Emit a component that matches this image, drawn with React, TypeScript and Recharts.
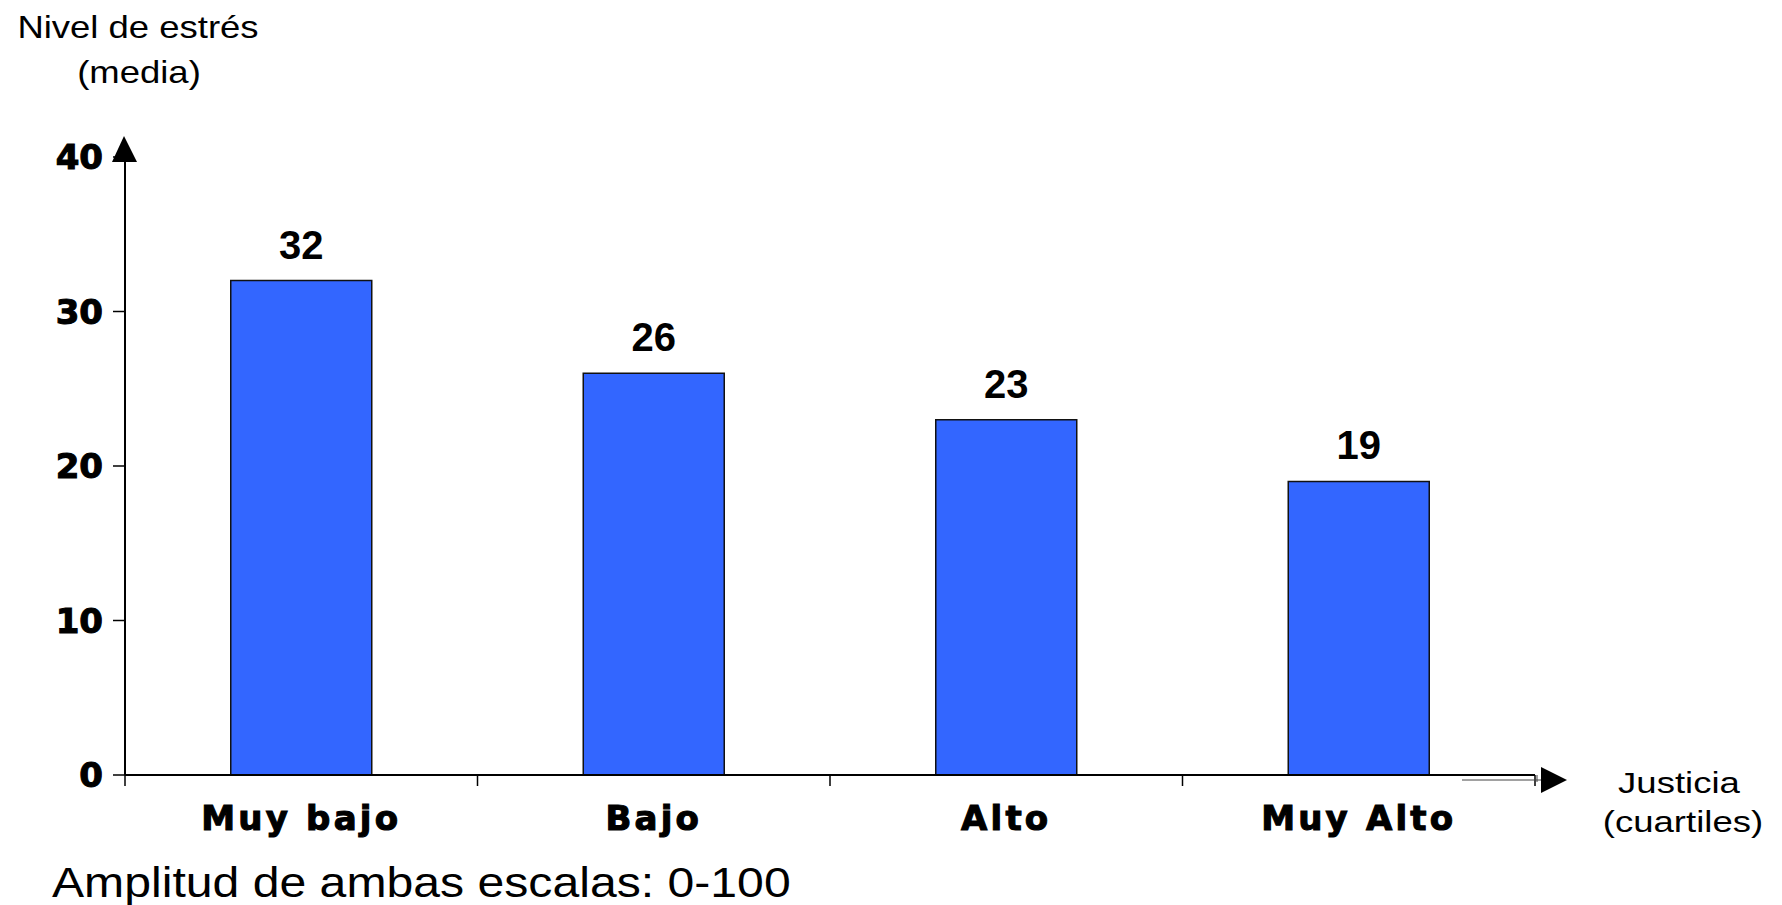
import React from 'react';
import { BarChart, Bar, XAxis, YAxis, LabelList } from 'recharts';

// Estrés medio por cuartil de justicia
const categories = ['Muy bajo', 'Bajo', 'Alto', 'Muy Alto'];
const stressMeans = [32, 26, 23, 19];
const yTicks = [0, 10, 20, 30, 40];

const W = 1782;
const H = 905;
const PLOT_LEFT = 125;
const PLOT_TOP = 157;
const PLOT_RIGHT = 1535;
const PLOT_BOTTOM = 775;
const Y_AXIS_WIDTH = 110;
const X_LABEL_GAP = 31;
const EDGE_TICK = 11;

const data = categories.map((name, i) => ({ name, value: stressMeans[i] }));

const sans = '"Liberation Sans", Arial, sans-serif';
// heavy tick text: DejaVu bold thickened with a thin outline
const boldTick = {
    fontFamily: '"DejaVu Sans", Verdana, sans-serif',
    fontWeight: 'bold',
    fontSize: 34,
    fill: '#000',
    stroke: '#000',
    strokeWidth: 1.1,
};

// category label plus tick marks on the band edges (not the band centre)
function CategoryTick({ x, y, payload, index }: any) {
    const half = payload?.offset || (PLOT_RIGHT - PLOT_LEFT) / categories.length / 2;
    const axisY = y - X_LABEL_GAP;
    const last = index === categories.length - 1;
    return (
        <g>
            <line x1={x - half} y1={axisY} x2={x - half} y2={axisY + EDGE_TICK} stroke="#000" strokeWidth={1.5} />
            {last && (
                <line x1={x + half} y1={axisY} x2={x + half} y2={axisY + EDGE_TICK} stroke="#000" strokeWidth={1.5} />
            )}
            <text x={x} y={y} dy="0.71em" textAnchor="middle" letterSpacing={3.2} {...boldTick}>
                {payload.value}
            </text>
        </g>
    );
}

// horizontally widened text, scaled around its anchor
function WideText({ x, y, sx, size, anchor = 'start', children }: any) {
    return (
        <text
            x={x}
            y={y}
            fontFamily={sans}
            fontSize={size}
            fill="#000"
            textAnchor={anchor}
            transform={`translate(${x},0) scale(${sx},1) translate(${-x},0)`}
        >
            {children}
        </text>
    );
}

function Decorations() {
    return (
        <svg
            width={W}
            height={H}
            style={{ position: 'absolute', left: 0, top: 0, pointerEvents: 'none' }}
        >
            {/* axis titles */}
            <WideText x={138} y={38} sx={1.14} size={32} anchor="middle">Nivel de estrés</WideText>
            <WideText x={139} y={83} sx={1.14} size={32} anchor="middle">(media)</WideText>
            <WideText x={1679} y={793} sx={1.26} size={29} anchor="middle">Justicia</WideText>
            <WideText x={1683} y={832} sx={1.26} size={29} anchor="middle">(cuartiles)</WideText>
            <WideText x={52} y={897} sx={1.12} size={43}>Amplitud de ambas escalas: 0-100</WideText>

            {/* arrow heads */}
            <polygon
                points={`${PLOT_LEFT - 13},${PLOT_TOP + 5} ${PLOT_LEFT + 12},${PLOT_TOP + 5} ${PLOT_LEFT - 1},${PLOT_TOP - 21}`}
                fill="#000"
            />
            <line x1={PLOT_RIGHT - 73} y1={PLOT_BOTTOM + 5} x2={PLOT_RIGHT + 6} y2={PLOT_BOTTOM + 5} stroke="#444" strokeWidth={1} />
            <line x1={PLOT_RIGHT + 2} y1={PLOT_BOTTOM} x2={PLOT_RIGHT + 2} y2={PLOT_BOTTOM + 7} stroke="#444" strokeWidth={1} />
            <polygon
                points={`${PLOT_RIGHT + 6},${PLOT_BOTTOM - 8} ${PLOT_RIGHT + 6},${PLOT_BOTTOM + 18} ${PLOT_RIGHT + 32},${PLOT_BOTTOM + 5}`}
                fill="#000"
            />
        </svg>
    );
}

export default function App() {
    return (
        <div style={{ position: 'absolute', left: 0, top: 0, width: W, height: H, background: '#fff' }}>
            <BarChart
                width={W}
                height={H}
                data={data}
                barCategoryGap="30%"
                margin={{
                    top: PLOT_TOP,
                    right: W - PLOT_RIGHT,
                    bottom: 0,
                    left: PLOT_LEFT - Y_AXIS_WIDTH,
                }}
            >
                <XAxis
                    dataKey="name"
                    height={H - PLOT_BOTTOM}
                    axisLine={{ stroke: '#000', strokeWidth: 2 }}
                    tickLine={false}
                    tickSize={0}
                    tickMargin={X_LABEL_GAP}
                    tick={<CategoryTick />}
                    interval={0}
                />
                <YAxis
                    width={Y_AXIS_WIDTH}
                    domain={[0, 40]}
                    ticks={yTicks}
                    axisLine={{ stroke: '#000', strokeWidth: 2 }}
                    tickLine={{ stroke: '#000', strokeWidth: 1.5 }}
                    tickSize={12}
                    tickMargin={10}
                    tick={boldTick}
                />
                <Bar
                    dataKey="value"
                    fill="#3366FF"
                    stroke="#111"
                    strokeWidth={1.5}
                    isAnimationActive={false}
                >
                    <LabelList
                        dataKey="value"
                        position="top"
                        offset={22}
                        style={{ fontFamily: sans, fontWeight: 'bold', fontSize: 40, fill: '#000' }}
                    />
                </Bar>
            </BarChart>
            <Decorations />
        </div>
    );
}
